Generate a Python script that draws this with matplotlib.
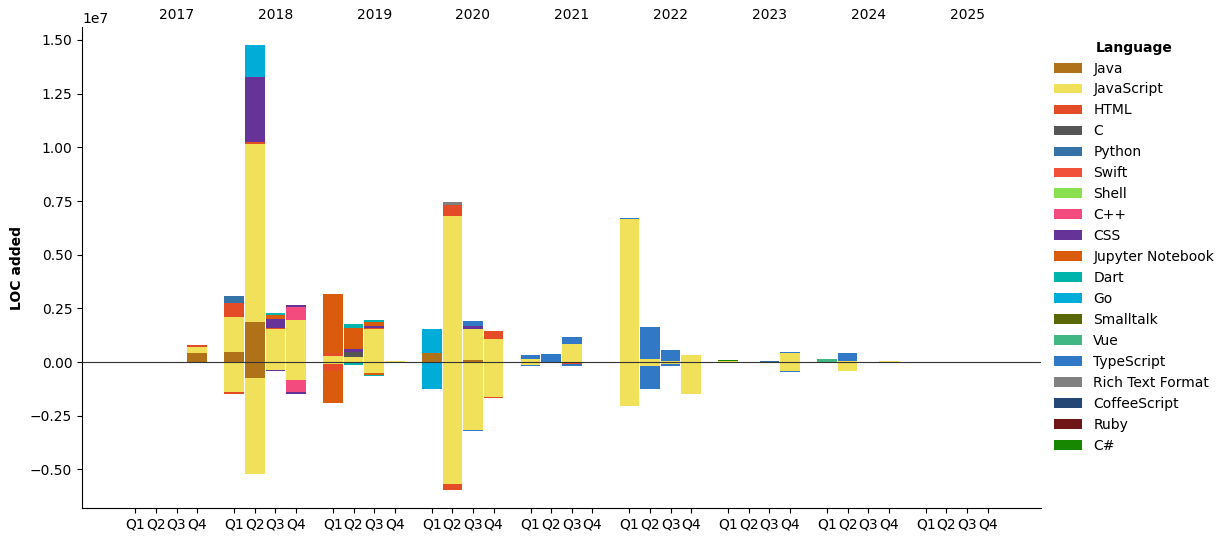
import numpy as np
import matplotlib
matplotlib.use('Agg')
import matplotlib.pyplot as plt

years = list(range(2017, 2026))
quarters = ['Q1', 'Q2', 'Q3', 'Q4']

# LOC per quarter, in millions: (added, removed)
java = {'2017Q4': (0.42, -0.05), '2018Q1': (0.47, 0), '2018Q2': (1.86, -0.74),
        '2020Q1': (0.40, -0.05), '2020Q3': (0.08, 0)}
javascript = {'2017Q4': (0.28, 0), '2018Q1': (1.63, -1.39), '2018Q2': (8.30, -4.46),
              '2018Q3': (1.54, -0.36), '2018Q4': (1.96, -0.82), '2019Q1': (0.30, -0.10),
              '2019Q2': (0.23, -0.05), '2019Q3': (1.55, -0.50), '2019Q4': (0.05, 0),
              '2020Q2': (6.80, -5.68), '2020Q3': (1.45, -3.15), '2020Q4': (1.08, -1.61),
              '2021Q1': (0.15, -0.12), '2021Q3': (0.83, -0.03), '2022Q1': (6.65, -2.05),
              '2022Q2': (0.14, -0.18), '2022Q3': (0.05, -0.08), '2022Q4': (0.33, -1.47),
              '2023Q1': (0.03, 0), '2023Q4': (0.43, -0.40), '2024Q2': (0.06, -0.40),
              '2024Q4': (0.05, 0)}
html = {'2017Q4': (0.10, 0), '2018Q1': (0.65, -0.09), '2018Q2': (0.08, 0),
        '2018Q3': (0.03, 0), '2019Q1': (0.12, -0.30), '2019Q3': (0.05, 0),
        '2020Q2': (0.51, -0.28), '2020Q4': (0.37, -0.05), '2021Q3': (0, -0.07)}
c_lang = {'2019Q2': (0.23, 0)}
python = {'2018Q1': (0.33, 0), '2023Q3': (0.05, 0)}
swift = {}
shell = {}
cpp = {'2018Q4': (0.60, -0.56)}
css = {'2018Q2': (3.05, 0), '2018Q3': (0.42, -0.05), '2018Q4': (0.09, -0.09),
       '2019Q2': (0.14, 0), '2019Q3': (0.09, 0), '2020Q3': (0.14, 0)}
jupyter = {'2018Q3': (0.22, 0), '2019Q1': (2.75, -1.50), '2019Q2': (0.98, 0),
           '2019Q3': (0.19, -0.09)}
dart = {'2018Q3': (0.06, 0), '2019Q2': (0.19, -0.10), '2019Q3': (0.09, -0.04),
        '2019Q4': (0, -0.03)}
go = {'2018Q2': (1.49, 0), '2020Q1': (1.15, -1.20)}
smalltalk = {}
vue = {'2024Q1': (0.15, 0)}
typescript = {'2020Q3': (0.23, -0.06), '2021Q1': (0.18, -0.05), '2021Q2': (0.37, 0),
              '2021Q3': (0.33, -0.08), '2022Q1': (0.05, 0), '2022Q2': (1.49, -1.07),
              '2022Q3': (0.50, -0.09), '2023Q4': (0.05, -0.05), '2024Q2': (0.37, 0)}
rtf = {'2020Q2': (0.16, 0)}
coffeescript = {}
ruby = {}
csharp = {'2023Q1': (0.07, 0)}

languages = ['Java', 'JavaScript', 'HTML', 'C', 'Python', 'Swift', 'Shell', 'C++', 'CSS',
             'Jupyter Notebook', 'Dart', 'Go', 'Smalltalk', 'Vue', 'TypeScript',
             'Rich Text Format', 'CoffeeScript', 'Ruby', 'C#']
lang_data = [java, javascript, html, c_lang, python, swift, shell, cpp, css, jupyter, dart,
             go, smalltalk, vue, typescript, rtf, coffeescript, ruby, csharp]
colors = ['#b07219', '#f1e05a', '#e34c26', '#555555', '#3572A5', '#F05138', '#89e051',
          '#f34b7d', '#663399', '#DA5B0B', '#00B4AB', '#00ADD8', '#596706', '#41b883',
          '#3178c6', '#808080', '#244776', '#701516', '#178600']

keys = ['%d%s' % (y, q) for y in years for q in quarters]
xpos = np.array([yi * 4.8 + qi for yi in range(len(years)) for qi in range(4)])
width = 0.95

fig = plt.figure(figsize=(12.29, 5.42), dpi=100)
ax = fig.add_axes([0.0667, 0.0627, 0.7803, 0.8873])

pos_bottom = np.zeros(len(keys))
neg_bottom = np.zeros(len(keys))
for lang, d, col in zip(languages, lang_data, colors):
    added = np.array([d.get(k, (0, 0))[0] for k in keys]) * 1e6
    removed = np.array([d.get(k, (0, 0))[1] for k in keys]) * 1e6
    ax.bar(xpos, added, width, bottom=pos_bottom, color=col, label=lang)
    ax.bar(xpos, removed, width, bottom=neg_bottom, color=col)
    pos_bottom += added
    neg_bottom += removed

ax.axhline(0, color='#333333', linewidth=0.8, zorder=3)

span = xpos[-1] - xpos[0] + width
ax.set_xlim(xpos[0] - width / 2 - 0.05 * span, xpos[-1] + width / 2 + 0.05 * span)
ax.set_ylim(-0.68e7, 1.56e7)

ax.set_xticks(xpos)
ax.set_xticklabels(quarters * len(years))
ax.set_ylabel('LOC added', fontweight='bold')

top = ax.secondary_xaxis('top')
top.set_xticks([yi * 4.8 + 2 for yi in range(len(years))])
top.set_xticklabels([str(y) for y in years])
top.tick_params(length=0)
top.spines['top'].set_visible(False)

ax.spines['top'].set_visible(False)
ax.spines['right'].set_visible(False)

leg = ax.legend(title='Language', loc='upper left', bbox_to_anchor=(1.001, 0.998), frameon=False)
leg.get_title().set_fontweight('bold')

fig.savefig('out.png', dpi=100)
